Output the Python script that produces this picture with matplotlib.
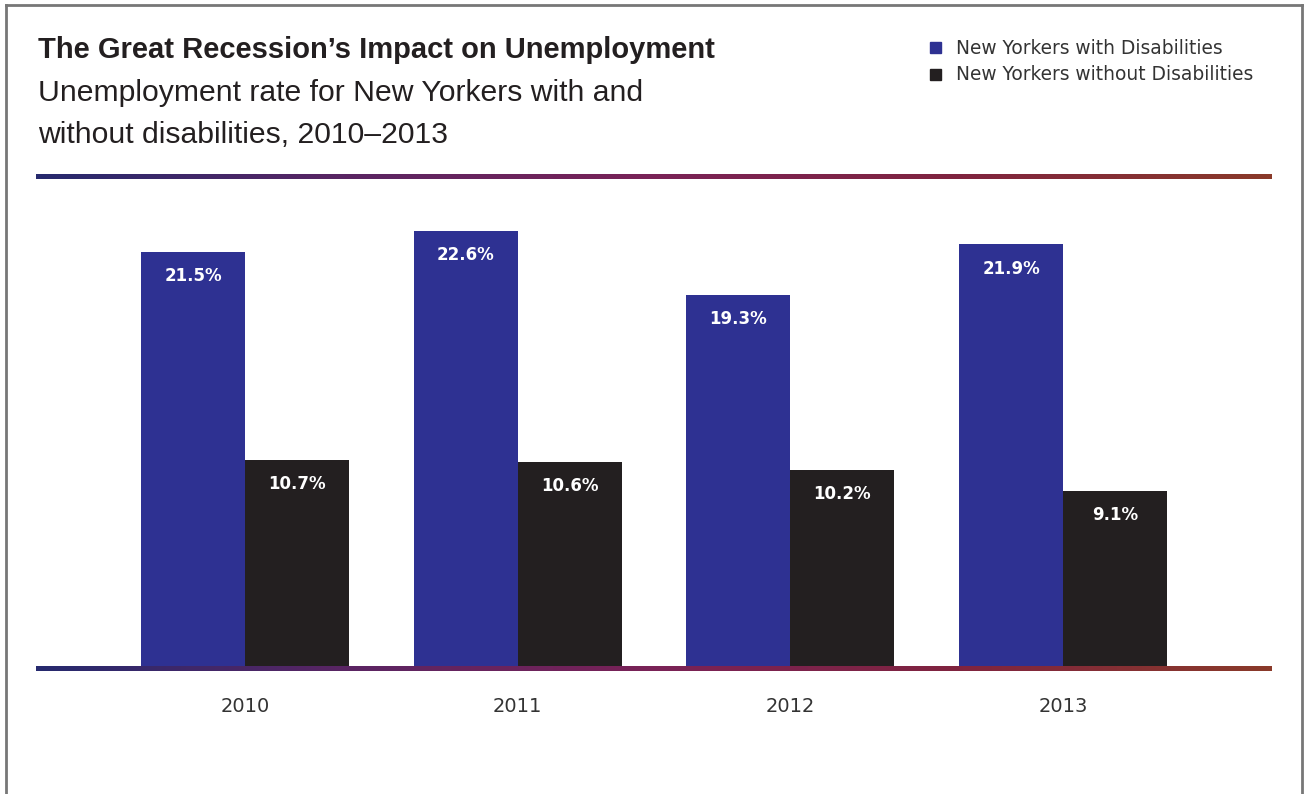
import numpy as np
import matplotlib
matplotlib.use("Agg")
import matplotlib.pyplot as plt
from matplotlib.colors import LinearSegmentedColormap
from matplotlib.patches import Rectangle

years = ["2010", "2011", "2012", "2013"]
with_dis = [21.5, 22.6, 19.3, 21.9]
without_dis = [10.7, 10.6, 10.2, 9.1]
series_names = ["New Yorkers with Disabilities", "New Yorkers without Disabilities"]

blue = "#2e3192"
black = "#231f20"
grad = LinearSegmentedColormap.from_list(
    "bar", ["#262a6e", "#5a2563", "#7a2257", "#80243f", "#8a3a2a"])

W, H = 1306, 794
fig = plt.figure(figsize=(W / 100, H / 100), dpi=100)


def fx(px):
    return px / W


def fy(py):
    return 1 - py / H


# frame around the chart (no bottom edge)
fig.add_artist(plt.Line2D([fx(6), fx(6)], [0, fy(5)], color="#777777", lw=2))
fig.add_artist(plt.Line2D([fx(1302), fx(1302)], [0, fy(5)], color="#777777", lw=2))
fig.add_artist(plt.Line2D([fx(6), fx(1302)], [fy(5), fy(5)], color="#777777", lw=2))

# bars
ax = fig.add_axes([fx(36), fy(666), fx(1272 - 36), (666 - 180) / H])
x = np.arange(len(years))
w = 0.381
b1 = ax.bar(x - w / 2, with_dis, w, color=blue, label=series_names[0])
b2 = ax.bar(x + w / 2, without_dis, w, color=black, label=series_names[1])
ax.set_xlim(-0.766, 3.766)
ax.set_ylim(0, 25.25)
ax.axis("off")

for bars, vals in [(b1, with_dis), (b2, without_dis)]:
    for r, v in zip(bars, vals):
        ax.text(r.get_x() + r.get_width() / 2, v - 1.25, f"{v}%",
                ha="center", va="center", color="white",
                fontsize=12, fontweight="bold", family="DejaVu Sans")

for xi, yr in zip(x, years):
    ax.text(xi, -2.1, yr, ha="center", va="center", fontsize=14,
            color="#333333", family="DejaVu Sans", clip_on=False)

# gradient rules
g = np.linspace(0, 1, 256).reshape(1, -1)
for top in (174, 666):
    lax = fig.add_axes([fx(36), fy(top + 5), fx(1272 - 36), 5 / H])
    lax.imshow(g, aspect="auto", cmap=grad)
    lax.axis("off")

# titles
fig.text(fx(38), fy(50), "The Great Recession\u2019s Impact on Unemployment",
         fontsize=21, fontweight="bold", color=black, va="center",
         family="Liberation Sans")
fig.text(fx(38), fy(93), "Unemployment rate for New Yorkers with and",
         fontsize=21.7, color=black, va="center", family="Liberation Sans")
fig.text(fx(38), fy(135), "without disabilities, 2010\u20132013",
         fontsize=21.7, color=black, va="center", family="Liberation Sans")

# legend
for i, (name, c) in enumerate(zip(series_names, [blue, black])):
    yc = 48 + 27 * i
    fig.add_artist(Rectangle((fx(930), fy(yc + 5)), fx(11), 11 / H,
                             color=c, transform=fig.transFigure))
    fig.text(fx(956), fy(yc), name, fontsize=13.4, color="#333333",
             va="center", family="DejaVu Sans")

fig.savefig("out.png", dpi=100)
